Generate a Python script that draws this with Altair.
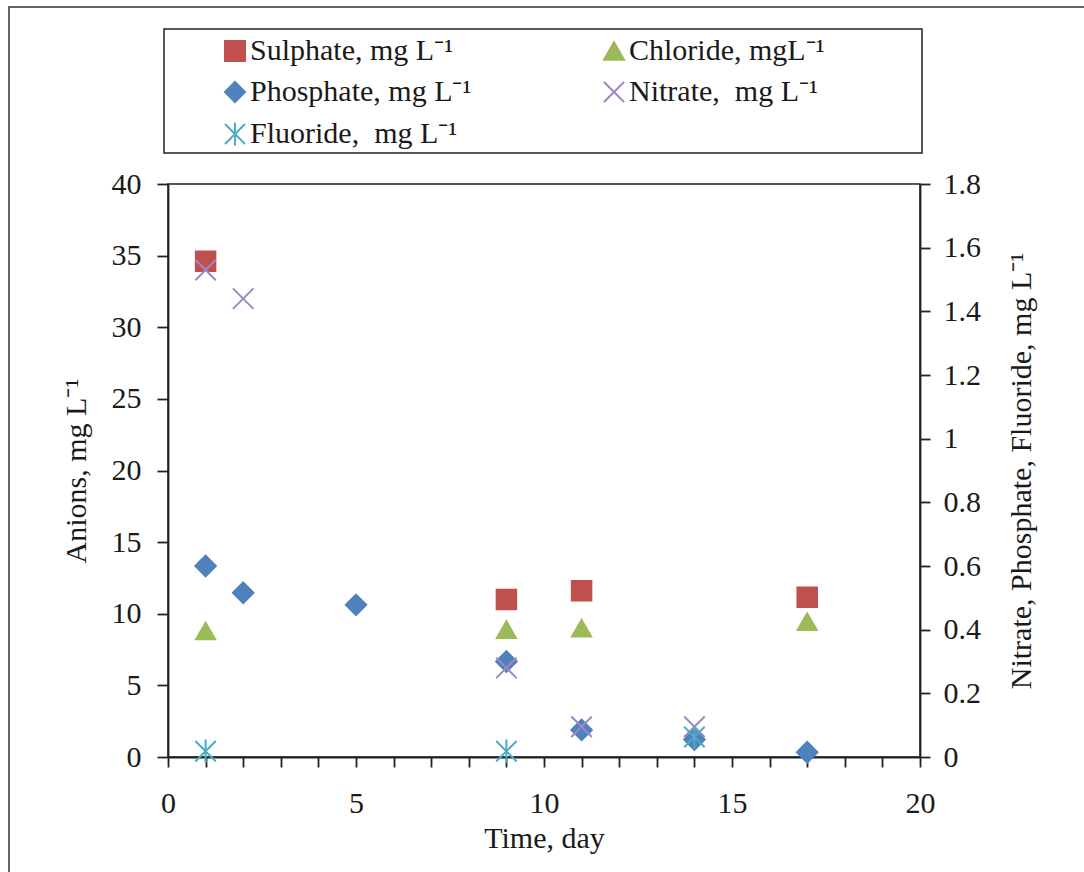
import altair as alt
import pandas as pd

# Anion concentrations over time (days)
series_order = [
    "Sulphate, mg L⁻¹",
    "Chloride, mgL⁻¹",
    "Phosphate, mg L⁻¹",
    "Nitrate,\u00a0 mg L⁻¹",
    "Fluoride,\u00a0 mg L⁻¹",
]

# Primary axis (mg/L)
sulphate_day = [1, 9, 11, 17]
sulphate_val = [34.6, 11.0, 11.6, 11.15]
chloride_day = [1, 9, 11, 17]
chloride_val = [8.8, 8.9, 9.0, 9.45]

# Secondary axis (mg/L)
phosphate_day = [1, 2, 5, 9, 11, 14, 17]
phosphate_val = [0.60, 0.516, 0.478, 0.30, 0.085, 0.055, 0.015]
nitrate_day = [1, 2, 9, 11, 14]
nitrate_val = [1.53, 1.44, 0.28, 0.095, 0.095]
fluoride_day = [1, 9, 14]
fluoride_val = [0.018, 0.018, 0.063]

fill_colors = ["#C0504D", "#9BBB59", "#4F81BD", "transparent", "transparent"]
stroke_colors = ["#C0504D", "#9BBB59", "#4F81BD", "#9C88C4", "#4BACC6"]
shapes = [
    "square",
    "triangle-up",
    "diamond",
    "M-1,-1L1,1M-1,1L1,-1",
    "M-1,-1L1,1M-1,1L1,-1M0,-1.15L0,1.15",
]

FONT = "Liberation Serif"
INK = "#1a1a1a"


def frame(days, vals, name):
    return pd.DataFrame({"day": days, "value": vals, "series": name})


left_df = pd.concat([
    frame(sulphate_day, sulphate_val, series_order[0]),
    frame(chloride_day, chloride_val, series_order[1]),
])
right_df = pd.concat([
    frame(phosphate_day, phosphate_val, series_order[2]),
    frame(nitrate_day, nitrate_val, series_order[3]),
    frame(fluoride_day, fluoride_val, series_order[4]),
])

legend = alt.Legend(
    title=None,
    orient="none",
    direction="horizontal",
    legendX=52,
    legendY=-148,
    columns=2,
    columnPadding=127,
    rowPadding=11,
    padding=0,
    labelFont=FONT,
    labelFontSize=30,
    labelColor=INK,
    labelOffset=0,
    labelLimit=400,
    symbolSize=400,
    symbolStrokeWidth=2,
    symbolOpacity=1,
)

shape_enc = alt.Shape("series:N", scale=alt.Scale(domain=series_order, range=shapes), legend=legend)
fill_enc = alt.Fill("series:N", scale=alt.Scale(domain=series_order, range=fill_colors), legend=legend)
stroke_enc = alt.Stroke("series:N", scale=alt.Scale(domain=series_order, range=stroke_colors), legend=legend)

x_enc = alt.X(
    "day:Q",
    scale=alt.Scale(domain=[0, 20], nice=False),
    axis=alt.Axis(
        title="Time, day",
        values=list(range(0, 21)),
        labelExpr="datum.value % 5 == 0 ? datum.label : ''",
        labelFlush=False,
        labelOverlap=False,
        tickSize=10,
        labelPadding=21,
        titlePadding=5,
    ),
)

left_points = alt.Chart(left_df).mark_point(opacity=1, size=400, strokeWidth=1.5).encode(
    x=x_enc,
    y=alt.Y(
        "value:Q",
        scale=alt.Scale(domain=[0, 40], nice=False),
        axis=alt.Axis(
            title="Anions, mg L⁻¹",
            orient="left",
            values=[0, 5, 10, 15, 20, 25, 30, 35, 40],
            tickSize=11,
            labelPadding=16,
            titlePadding=20,
        ),
    ),
    shape=shape_enc,
    fill=fill_enc,
    stroke=stroke_enc,
)

right_points = alt.Chart(right_df).mark_point(opacity=1, size=420, strokeWidth=2).encode(
    x=x_enc,
    y=alt.Y(
        "value:Q",
        scale=alt.Scale(domain=[0, 1.8], nice=False),
        axis=alt.Axis(
            title="Nitrate, Phosphate, Fluoride, mg L⁻¹",
            orient="right",
            values=[0, 0.2, 0.4, 0.6, 0.8, 1, 1.2, 1.4, 1.6, 1.8],
            format="~g",
            tickSize=10,
            labelPadding=13,
            titlePadding=26,
            titleAngle=270,
            titleBaseline="top",
        ),
    ),
    shape=shape_enc,
    fill=fill_enc,
    stroke=stroke_enc,
)

# Legend frame and outer chart frame
box_src = pd.DataFrame({"k": [0]})
legend_box = alt.Chart(box_src).mark_rect(fill="transparent", stroke="#222222", strokeWidth=1.5).encode(
    x=alt.value(-4), x2=alt.value(754), y=alt.value(-155), y2=alt.value(-31)
)
outer_box = alt.Chart(box_src).mark_rect(fill="transparent", stroke="#333333", strokeWidth=1.5).encode(
    x=alt.value(-159), x2=alt.value(940), y=alt.value(-177), y2=alt.value(720)
)

chart = (
    alt.layer(outer_box, legend_box, left_points, right_points)
    .resolve_scale(y="independent")
    .properties(
        width=752,
        height=573,
        autosize=alt.AutoSizeParams(type="none"),
        padding={"left": 168, "top": 184, "right": 164, "bottom": 115},
        background="white",
    )
    .configure(font=FONT)
    .configure_view(stroke="#222222", strokeWidth=1.5)
    .configure_axis(
        grid=False,
        domainColor="#222222",
        domainWidth=1.8,
        tickColor="#222222",
        tickWidth=1.8,
        labelFont=FONT,
        labelFontSize=30,
        labelColor=INK,
        titleFont=FONT,
        titleFontSize=30,
        titleFontWeight="normal",
        titleColor=INK,
    )
)

chart.save("out.html", embed_options={"renderer": "svg", "actions": False})
